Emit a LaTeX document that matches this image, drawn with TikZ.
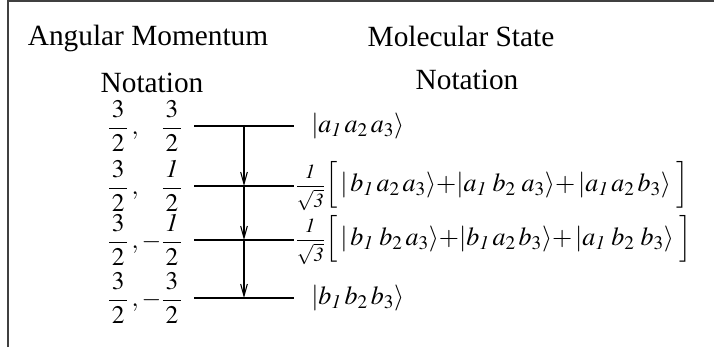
\documentclass[tikz,border=0pt]{standalone}
\usepackage{amsmath}
\usepackage{mathptmx}
\usepackage{fontspec}
\setmainfont{Liberation Serif}
\usepackage{tikz}
\usetikzlibrary{arrows.meta,positioning}

\newcommand{\qfrac}[2]{\dfrac{\mkern2mu#1\mkern2mu}{\mkern2mu#2\mkern2mu}}
\newcommand{\rtthree}{{\fontsize{15}{17}\selectfont$\dfrac{\mathit{1}}{\sqrt{\mathit{3}}}$}}

\begin{document}
\begin{tikzpicture}[x=0.75pt, y=-0.75pt,
      head/.style={font=\fontsize{22}{26}\selectfont, inner sep=0pt, anchor=base},
      qnum/.style={font=\fontsize{19}{23}\selectfont, anchor=east, inner sep=0pt},
      ket/.style={font=\fontsize{19.5}{23}\selectfont, anchor=west, inner sep=0pt},
      level/.style={line width=1.5pt},
      arr/.style={-{Straight Barb[length=9pt, width=5pt]}, line width=0.8pt},
      frame/.style={line width=1pt, black!75},
    ]
      \useasboundingbox (0,0) rectangle (714,347);
      \draw[frame] (8,347) -- (8,1) -- (714,1);

      \node[head] (amom) at (148,45) {Angular Momentum};
      \node[head] (mstate) at (461,46) {Molecular State};
      \node[head] (anot) at (152,92) {Notation};
      \node[head] (mnot) at (467,89) {Notation};

      % energy levels
      \foreach \n/\y in {1/126, 2/186, 3/240, 4/298} {
        \coordinate (lw\n) at (194,\y);
        \coordinate (le\n) at (294,\y);
        \coordinate (t\n) at (244,\y);
        \draw[level] (lw\n) -- (le\n);
      }

      \node[qnum] (q1) at (183,126) {$\qfrac{3}{2}\,,\phantom{{-}}\qfrac{3}{2}$};
      \node[qnum] (q2) at (183,186) {$\qfrac{3}{2}\,,\phantom{{-}}\qfrac{\mathit{1}}{2}$};
      \node[qnum] (q3) at (183,240) {$\qfrac{3}{2}\,,{-}\qfrac{\mathit{1}}{2}$};
      \node[qnum] (q4) at (183,298) {$\qfrac{3}{2}\,,{-}\qfrac{3}{2}$};

      \node[ket] (k1) at (311,126) {$|a_{\mathit{1}}\,a_2\,a_3\rangle$};
      \node[ket] (k2) at (295,186) {\rtthree$\Bigl[\,|\,b_{\mathit{1}}\,a_2\,a_3\rangle{+}|a_{\mathit{1}}\;b_2\;a_3\rangle{+}\,|a_{\mathit{1}}\,a_2\,b_3\rangle\;\Bigr]$};
      \node[ket] (k3) at (295,240) {\rtthree$\Bigl[\,|\,b_{\mathit{1}}\;b_2\,a_3\rangle{+}|b_{\mathit{1}}\,a_2\,b_3\rangle{+}\,|a_{\mathit{1}}\;b_2\;b_3\rangle\;\Bigr]$};
      \node[ket] (k4) at (311,298) {$|b_{\mathit{1}}\,b_2\,b_3\rangle$};

      \draw[arr] (t1) -- (t2);
      \draw[arr] (t2) -- (t3);
      \draw[arr] (t3) -- (t4);
    \end{tikzpicture}
\end{document}
